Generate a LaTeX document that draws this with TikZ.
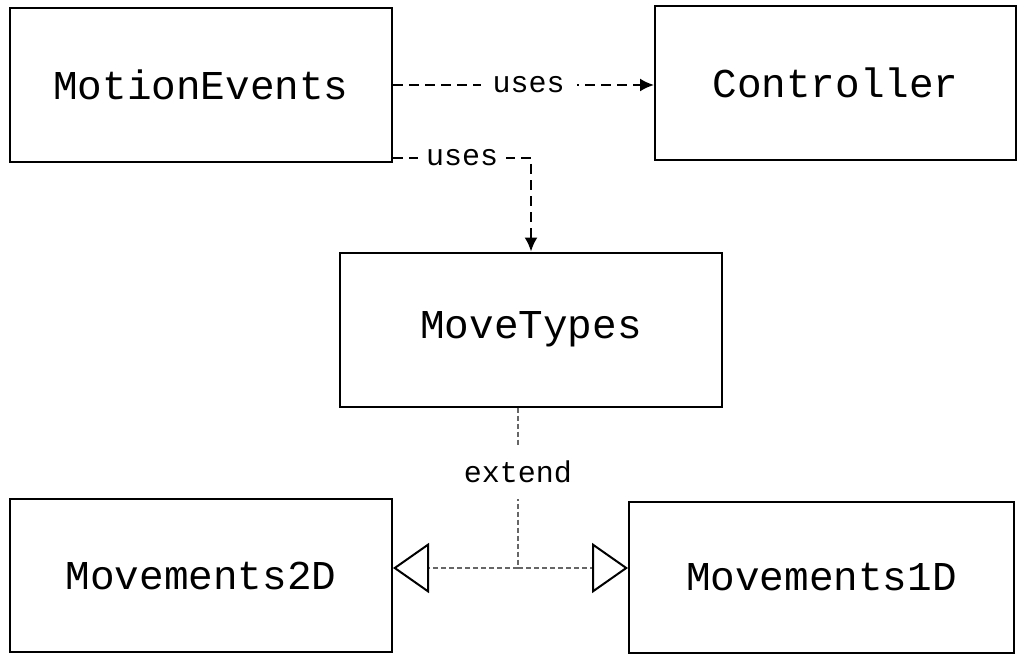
\documentclass[tikz,border=0pt]{standalone}
\usepackage{fontspec}
\newfontfamily\monofam{Liberation Mono}
\usetikzlibrary{arrows.meta}
\tikzset{
  classbox/.style={draw=black, line width=2pt, rectangle, fill=white,
    font=\monofam\fontsize{41}{48}\selectfont, inner sep=0pt},
  useslink/.style={draw=black, line width=2pt, dash pattern=on 10pt off 6pt,
    -{Latex[length=14pt, width=13pt]}},
  uselabel/.style={fill=white, font=\monofam\fontsize{30}{34}\selectfont,
    inner xsep=12pt, inner ysep=2pt},
  extlink/.style={draw=black!60, line width=1.2pt, dash pattern=on 5pt off 3pt},
  exttip/.style={-{Triangle[open, length=36pt, width=50pt, line width=2pt, color=black, fill=white]}},
  extlabel/.style={fill=white, font=\monofam\fontsize{30}{34}\selectfont,
    inner xsep=4pt, inner ysep=16pt}
}
\begin{document}
\begin{tikzpicture}[x=1pt, y=-1pt]
  \useasboundingbox (0,0) rectangle (1024,655);

  % classes
  \node[classbox, minimum width=382pt, minimum height=154pt] (me) at (201,85) {MotionEvents};
  \node[classbox, minimum width=361pt, minimum height=154pt] (ctrl) at (835.5,83) {Controller};
  \node[classbox, minimum width=382pt, minimum height=154pt] (mt) at (531,329.5) {MoveTypes};
  \node[classbox, minimum width=382pt, minimum height=153pt] (m2) at (201,575.5) {Movements2D};
  \node[classbox, minimum width=385pt, minimum height=151pt] (m1) at (821.5,577.5) {Movements1D};

  % dependencies
  \draw[useslink] (me.east) -- node[uselabel, pos=0.52] (u1) {uses} (me.east -| ctrl.west);
  \draw[useslink] ([yshift=5pt]me.south east) -| node[uselabel, pos=0.25, inner xsep=8pt] (u2) {uses} (mt.north);

  % inheritance
  \coordinate (j) at (518,568);
  \draw[extlink] (mt.south -| j) -- node[extlabel, pos=0.4] (ext) {extend} (j);
  \draw[extlink, exttip] (j) -- (m2.east |- j);
  \draw[extlink, exttip] (j) -- (m1.west |- j);
\end{tikzpicture}
\end{document}
